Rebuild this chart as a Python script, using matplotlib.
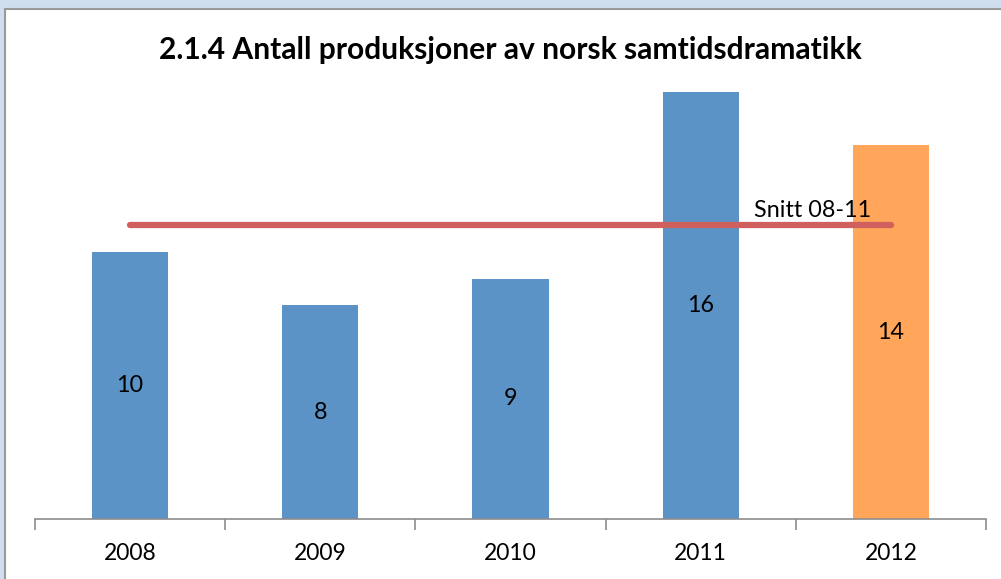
import matplotlib.pyplot as plt
from matplotlib.patches import Rectangle

years = ['2008', '2009', '2010', '2011', '2012']
counts = [10, 8, 9, 16, 14]
colors = ['#5b93c7', '#5b93c7', '#5b93c7', '#5b93c7', '#ffa65a']
snitt = 11
snitt_label = 'Snitt 08-11'
title = '2.1.4 Antall produksjoner av norsk samtidsdramatikk'

plt.rcParams['font.family'] = ['Lato', 'DejaVu Sans']

W, H = 1001, 579
fig = plt.figure(figsize=(W / 100, H / 100), dpi=100)
fig.patch.set_facecolor('#cfdff0')
# white chart panel with thin grey border
fig.patches.append(Rectangle((5 / W, -0.1), 1.1, (H - 9) / H + 0.1,
                             transform=fig.transFigure, facecolor='white',
                             edgecolor='#9a9a9a', linewidth=1.5, zorder=-5))

ax = fig.add_axes([35 / W, (H - 519) / H, 951 / W, 18 * 26.7 / H])
ax.set_facecolor('none')
x = range(len(years))
ax.bar(x, counts, width=0.4, color=colors, zorder=2)
for i, v in enumerate(counts):
    ax.text(i, v / 2, str(v), ha='center', va='center', fontsize=16.8, color='black', zorder=3)

ax.plot([0, 4], [snitt, snitt], color='#cf605e', linewidth=4.5,
        solid_capstyle='round', zorder=4)
ax.text(3.28, snitt + 0.15, snitt_label, ha='left', va='bottom', fontsize=16.8, zorder=5)

ax.set_xlim(-0.5, 4.5)
ax.set_ylim(0, 18)
ax.set_yticks([])
ax.set_xticks([i + 0.5 for i in range(-1, 5)], minor=True)
ax.set_xticks(list(x))
ax.set_xticklabels(years, fontsize=16.5)
ax.tick_params(axis='x', which='major', length=0, pad=17)
ax.tick_params(axis='x', which='minor', length=8, width=1.2, color='#8c8c8c')
for s in ['left', 'right', 'top']:
    ax.spines[s].set_visible(False)
ax.spines['bottom'].set_color('#8c8c8c')
ax.spines['bottom'].set_linewidth(1.2)

fig.text(510 / W, 1 - 50 / H, title, ha='center', va='center',
         fontsize=21.6, fontweight='bold')

fig.savefig('out.png', dpi=100)
